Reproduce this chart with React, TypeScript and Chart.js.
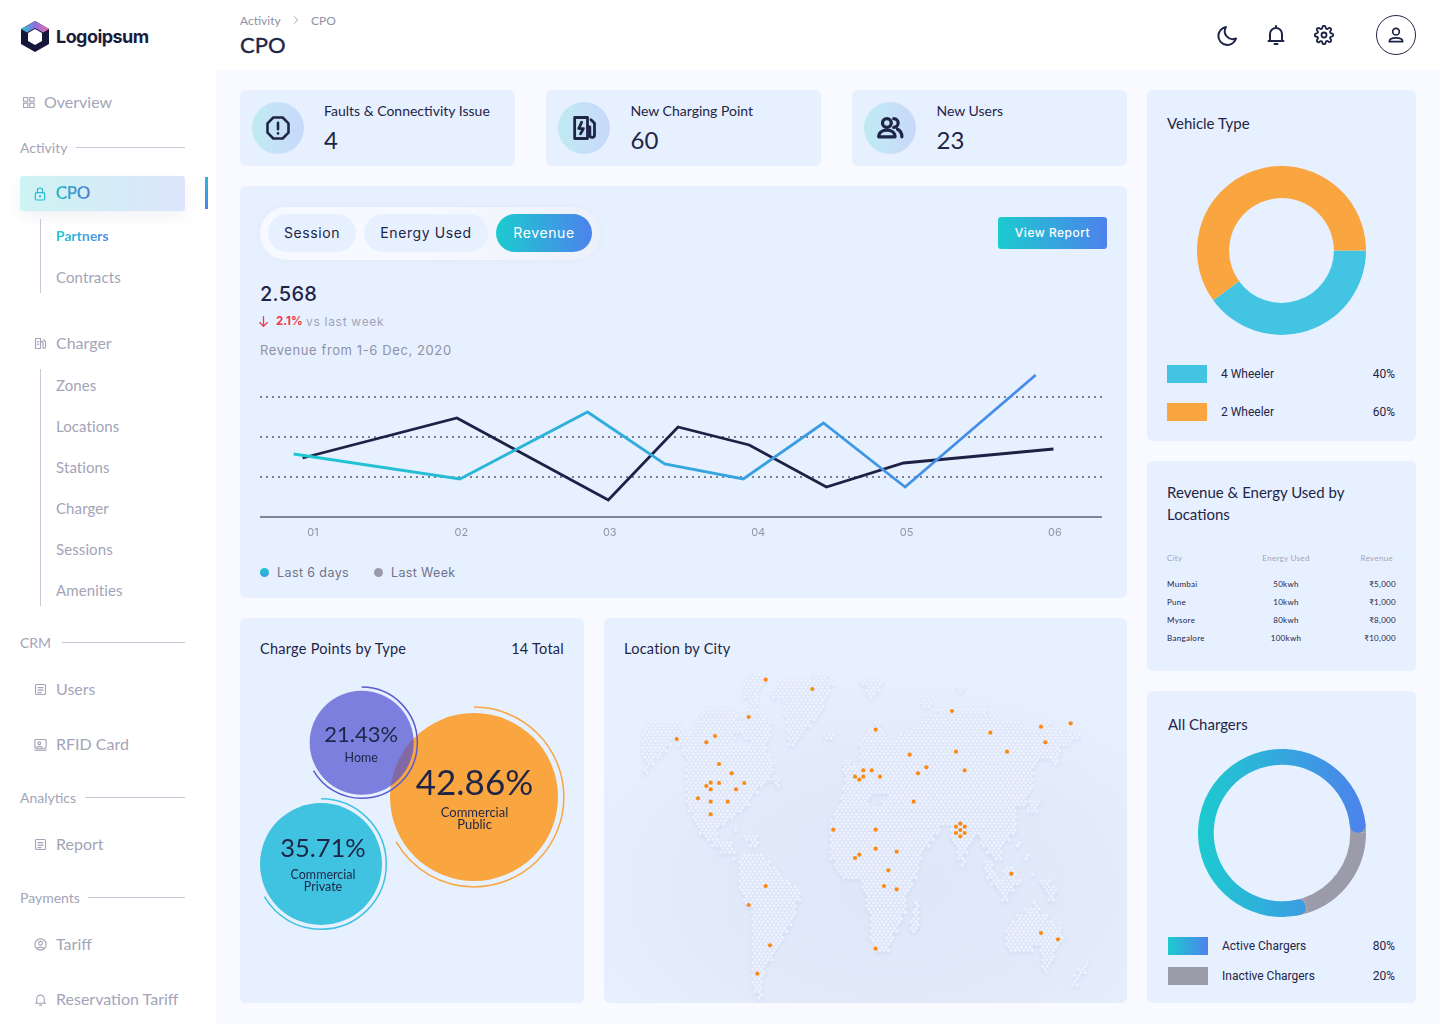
import React, { useEffect, useRef } from "react";
import { Chart, registerables } from "chart.js";

Chart.register(...registerables);

/* ---------- data ---------- */
const dayTicks = ["01", "02", "03", "04", "05", "06"];
const last6DaysX = [0.87, 1.99, 2.85, 3.37, 3.9, 4.44, 4.99, 5.87];
const last6DaysY = [31.5, 19, 52.5, 26.5, 19, 47, 15, 71];
const lastWeekX = [0.93, 1.97, 2.99, 3.46, 3.94, 4.46, 4.98, 5.99];
const lastWeekY = [29.5, 49.5, 8.5, 45, 36, 15, 27, 34];

const vehicleLabels = ["4 Wheeler", "2 Wheeler"];
const vehicleValues = [40, 60];
const chargerLabels = ["Active Chargers", "Inactive Chargers"];
const chargerValues = [80, 20];

const chargeTypes = ["Commercial Public", "Commercial Private", "Home"];
const chargePercents = ["42.86%", "35.71%", "21.43%"];
const chargeX = [234, 81, 121.7];
const chargeY = [179, 246, 124.7];
const chargeR = [84, 61, 52];

const cityX = [485, 625, 434, 218, 307, 333, 345, 383, 307, 320, 320, 345, 396, 421, 282, 320, 371, 320, 815, 1044, 1159, 1311, 1400, 1324, 1209, 1056, 917, 967, 942, 1082, 778, 803, 753, 766, 778, 828, 929, 688, 815, 815, 878, 766, 753, 853, 840, 878, 485, 434, 498, 460, 815, 1222, 1311, 1362, 1056, 1069, 1082, 1056, 1069, 1082, 1069];
const cityY = [59, 87, 171, 237, 247, 228, 312, 340, 378, 368, 388, 369, 388, 369, 415, 425, 425, 463, 209, 153, 218, 200, 190, 247, 275, 275, 284, 322, 340, 331, 331, 331, 350, 359, 350, 350, 425, 509, 509, 566, 575, 584, 594, 631, 678, 688, 678, 735, 856, 941, 866, 641, 819, 838, 500, 491, 500, 519, 510, 519, 529];

const landRows: Record<number, number[]> = {
  50: [430, 490, 630, 670],
  70: [420, 480, 520, 690, 770, 840],
  90: [415, 470, 510, 680, 785, 830, 1060, 1080],
  110: [420, 460, 500, 670, 795, 810],
  130: [440, 460, 540, 660, 950, 985],
  150: [295, 390, 430, 470, 540, 650, 1000, 1150],
  170: [290, 400, 420, 490, 545, 640, 960, 1180],
  190: [130, 230, 280, 500, 545, 620, 810, 830, 930, 1270, 1300, 1340],
  210: [120, 240, 260, 500, 545, 600, 790, 840, 920, 1380],
  230: [115, 390, 420, 500, 550, 590, 660, 690, 780, 850, 880, 1430],
  250: [115, 200, 220, 390, 440, 490, 550, 575, 770, 1400],
  270: [115, 190, 235, 490, 770, 1370],
  290: [115, 170, 240, 500, 770, 1365],
  310: [125, 150, 245, 510, 715, 740, 765, 1300, 1345, 1365],
  330: [120, 130, 245, 510, 715, 1290],
  350: [245, 500, 510, 525, 720, 1290],
  370: [245, 480, 515, 525, 720, 1290],
  390: [245, 460, 715, 1280],
  410: [245, 445, 710, 800, 850, 1270],
  430: [245, 435, 710, 790, 830, 1270, 1275, 1310],
  450: [255, 420, 700, 1240, 1270, 1300],
  470: [265, 395, 690, 1240],
  490: [270, 365, 680, 1240],
  510: [285, 340, 395, 400, 680, 1010, 1040, 1240],
  530: [305, 345, 420, 460, 680, 990, 1040, 1110, 1130, 1220],
  550: [320, 385, 440, 460, 680, 980, 1050, 1100, 1130, 1200, 1240, 1250],
  570: [350, 390, 680, 960, 1060, 1090, 1150, 1190],
  590: [385, 395, 410, 480, 680, 950, 1060, 1080, 1165, 1190, 1265, 1275],
  610: [405, 500, 690, 945, 1070, 1085, 1145, 1165],
  630: [405, 520, 700, 945, 1145, 1170, 1200, 1230],
  650: [405, 535, 710, 940, 1150, 1180, 1200, 1240, 1280, 1290],
  670: [405, 555, 775, 925, 1160, 1250, 1305, 1340],
  690: [405, 585, 775, 920, 1180, 1230, 1320, 1355],
  710: [415, 590, 785, 910, 1195, 1215, 1330, 1350],
  730: [425, 580, 785, 910, 935, 945, 1290, 1300],
  750: [445, 575, 790, 905, 925, 945, 1260, 1310],
  770: [445, 570, 800, 895, 925, 945, 1240, 1330],
  790: [445, 565, 800, 890, 920, 945, 1220, 1350],
  810: [445, 550, 800, 880, 920, 940, 1205, 1370],
  830: [445, 540, 800, 870, 1205, 1375],
  850: [445, 530, 805, 860, 1205, 1370],
  870: [445, 520, 810, 855, 1210, 1290, 1305, 1360],
  890: [445, 505, 1315, 1350],
  910: [445, 490, 1315, 1340, 1440, 1455],
  930: [445, 480, 1320, 1330, 1420, 1445],
  950: [445, 475, 1410, 1430],
  970: [445, 475, 1405, 1420],
  990: [450, 475],
  1010: [460, 475],
};

const locationRows = [
  ["Mumbai", "50kwh", "₹5,000"],
  ["Pune", "10kwh", "₹1,000"],
  ["Mysore", "80kwh", "₹8,000"],
  ["Bangalore", "100kwh", "₹10,000"],
];

/* ---------- shared styling ---------- */
const INK = "#1f2547";
const GREY = "#a3a4b8";
const CARD = "#e7f0ff";
const TEAL = "#1ccbcf";
const BLUE = "#4d82ec";
const GRAD = `linear-gradient(90deg, ${TEAL}, ${BLUE})`;
const LATO = "Lato, sans-serif";
const INTER = "Inter, sans-serif";
const ROBOTO = "Roboto, sans-serif";

function landPoints() {
  const pts: { x: number; y: number }[] = [];
  for (let r = -50; r <= 55; r++) {
    const y = 510 + 9.5 * r;
    const key = Math.round((y - 10) / 20) * 20 + 10;
    const spans = landRows[key];
    if (!spans) continue;
    const off = r % 2 === 0 ? 0 : 6.35;
    for (let s = 0; s < spans.length; s += 2) {
      const k0 = Math.ceil((spans[s] - 1069 - off) / 12.7);
      const k1 = Math.floor((spans[s + 1] - 1069 - off) / 12.7);
      for (let k = k0; k <= k1; k++) pts.push({ x: 1069 + off + k * 12.7, y });
    }
  }
  return pts;
}

const horizontalGradient = (chart: any) => {
  const a = chart.chartArea;
  if (!a) return TEAL;
  const g = chart.ctx.createLinearGradient(a.left, 0, a.right, 0);
  g.addColorStop(0, TEAL);
  g.addColorStop(1, BLUE);
  return g;
};

const baseOptions = {
  responsive: false,
  animation: false,
  events: [],
  layout: { padding: 0, autoPadding: false },
};
const noPlugins = { legend: { display: false }, tooltip: { enabled: false } };

/* ---------- chart configs ---------- */
function lineConfig() {
  return {
    type: "line",
    data: {
      datasets: [
        {
          label: "Last 6 days",
          data: last6DaysX.map((x, i) => ({ x, y: last6DaysY[i] })),
          borderColor: (c: any) => horizontalGradient(c.chart),
          borderWidth: 2.8,
          pointRadius: 0,
          tension: 0,
          clip: false,
          borderJoinStyle: "miter",
        },
        {
          label: "Last Week",
          data: lastWeekX.map((x, i) => ({ x, y: lastWeekY[i] })),
          borderColor: "#1c2145",
          borderWidth: 2.8,
          pointRadius: 0,
          tension: 0,
          clip: false,
          borderJoinStyle: "miter",
        },
      ],
    },
    options: {
      ...baseOptions,
      plugins: noPlugins,
      scales: {
        x: {
          type: "linear",
          min: 0.643,
          max: 6.317,
          grid: { display: false, drawTicks: false },
          border: { display: true, color: "#7e8499", width: 2 },
          afterFit: (s: any) => {
            s.height = 22;
          },
          ticks: {
            stepSize: 1,
            includeBounds: false,
            padding: 9.2,
            maxRotation: 0,
            autoSkip: false,
            color: "#9294a8",
            font: { family: INTER, size: 11 },
            callback: (v: number) => dayTicks[v - 1] ?? "",
          },
        },
        y: {
          min: 0,
          max: 80,
          grid: {
            drawTicks: false,
            lineWidth: 2,
            color: (c: any) =>
              c.tick && [20, 40, 60].includes(c.tick.value) ? "#7c7f90" : "rgba(0,0,0,0)",
          },
          border: { display: false, dash: [2, 4] },
          ticks: { display: false, stepSize: 20 },
        },
      },
    },
  };
}

function vehicleConfig() {
  return {
    type: "doughnut",
    data: {
      labels: vehicleLabels,
      datasets: [{ data: vehicleValues, backgroundColor: ["#44c4e3", "#f9a540"], borderWidth: 0 }],
    },
    options: { ...baseOptions, plugins: noPlugins, rotation: 90, cutout: "62%" },
  };
}

const chargerUnderlay = {
  id: "chargerUnderlay",
  beforeDatasetsDraw(chart: any) {
    const el = chart.getDatasetMeta(0).data[0];
    const { x, y, innerRadius, outerRadius, startAngle, endAngle } = el;
    const d = 0.16;
    const ctx = chart.ctx;
    ctx.save();
    ctx.fillStyle = "#9c9baa";
    for (const [a, b] of [
      [startAngle, startAngle + d],
      [endAngle - d, endAngle],
    ]) {
      ctx.beginPath();
      ctx.arc(x, y, outerRadius, a, b);
      ctx.arc(x, y, innerRadius, b, a, true);
      ctx.closePath();
      ctx.fill();
    }
    ctx.restore();
  },
};

function chargerConfig() {
  return {
    type: "doughnut",
    data: {
      labels: chargerLabels,
      datasets: [
        {
          data: chargerValues,
          backgroundColor: (c: any) => (c.dataIndex === 0 ? horizontalGradient(c.chart) : "#9c9baa"),
          borderRadius: (c: any) => (c.dataIndex === 0 ? 8 : 0),
          borderWidth: 0,
        },
      ],
    },
    options: { ...baseOptions, plugins: noPlugins, rotation: 161.9, cutout: "81.3%" },
    plugins: [chargerUnderlay],
  };
}

const bubbleFill = ["#f9a540", "#40c3e0", "rgba(80,81,207,0.71)"];
const bubbleRing = ["#f9a540", "#3fc3e0", "#5a5bd0"];
const bubbleText = [
  { size: 35, dx: 0.5, pctDy: -13.5, lines: ["Commercial", "Public"], lineDy: 16, lineSize: 13 },
  { size: 25.5, dx: 2, pctDy: -15, lines: ["Commercial", "Private"], lineDy: 11, lineSize: 12.5 },
  { size: 22, dx: -0.5, pctDy: -7.5, lines: ["Home"], lineDy: 15, lineSize: 12.5 },
];

const bubbleDecor = {
  id: "bubbleDecor",
  afterDatasetsDraw(chart: any) {
    const ctx = chart.ctx;
    chart.getDatasetMeta(0).data.forEach((el: any, i: number) => {
      const r = el.options.radius;
      ctx.save();
      ctx.strokeStyle = bubbleRing[i];
      ctx.lineWidth = 1.5;
      ctx.beginPath();
      ctx.arc(el.x, el.y, r * 1.07, -Math.PI / 2, (150 / 180) * Math.PI);
      ctx.stroke();
      const t = bubbleText[i];
      ctx.fillStyle = INK;
      ctx.textAlign = "center";
      ctx.textBaseline = "middle";
      ctx.font = `400 ${t.size}px ${LATO}`;
      ctx.fillText(chargePercents[i], el.x + t.dx, el.y + t.pctDy);
      ctx.font = `400 ${t.lineSize}px ${LATO}`;
      t.lines.forEach((line, j) => ctx.fillText(line, el.x + t.dx, el.y + t.lineDy + j * 12));
      ctx.restore();
    });
  },
};

function bubbleConfig() {
  return {
    type: "bubble",
    data: {
      labels: chargeTypes,
      datasets: [
        {
          data: chargeX.map((x, i) => ({ x, y: chargeY[i], r: chargeR[i] })),
          backgroundColor: bubbleFill,
          borderWidth: 0,
          clip: false,
        },
      ],
    },
    options: {
      ...baseOptions,
      plugins: noPlugins,
      scales: {
        x: { display: false, min: 0, max: 344 },
        y: { display: false, min: 0, max: 385, reverse: true },
      },
    },
    plugins: [bubbleDecor],
  };
}

const landShadow = {
  id: "landShadow",
  beforeDatasetDraw(chart: any, args: any) {
    if (args.index !== 1) return;
    const c = chart.ctx;
    c.save();
    c.shadowColor = "rgba(135,155,215,0.14)";
    c.shadowBlur = 4;
    c.shadowOffsetY = 2;
  },
  afterDatasetDraw(chart: any, args: any) {
    if (args.index === 1) chart.ctx.restore();
  },
};

function mapConfig() {
  return {
    type: "scatter",
    data: {
      datasets: [
        {
          label: "Cities",
          data: cityX.map((x, i) => ({ x, y: cityY[i] })),
          pointRadius: 2.1,
          pointBackgroundColor: "#fb8a14",
          pointBorderWidth: 0,
          clip: false,
        },
        {
          label: "Land",
          data: landPoints(),
          pointRadius: 1.75,
          pointBackgroundColor: "#f1f5ff",
          pointBorderColor: "#dfe6f8",
          pointBorderWidth: 0.5,
          clip: false,
        },
      ],
    },
    options: {
      ...baseOptions,
      plugins: noPlugins,
      scales: {
        x: { display: false, min: 0, max: 1569 },
        y: { display: false, min: 0, max: 1029, reverse: true },
      },
    },
    plugins: [landShadow],
  };
}

/* ---------- small components ---------- */
function ChartCanvas({ l, t, w, h, make }: any) {
  const ref = useRef<HTMLCanvasElement>(null);
  useEffect(() => {
    const chart = new Chart(ref.current as any, make());
    return () => chart.destroy();
  }, []);
  return (
    <canvas
      ref={ref}
      width={w}
      height={h}
      style={{ position: "absolute", left: l, top: t, width: w, height: h, display: "block" }}
    />
  );
}

function T({ x, y, s = 14, c = INK, f = LATO, w = 400, a = "left", ls = 0, grad = false, st = 0, children }: any) {
  const tx = a === "left" ? "0" : a === "right" ? "-100%" : "-50%";
  const extra: any = grad
    ? { backgroundImage: GRAD, WebkitBackgroundClip: "text", backgroundClip: "text", color: "transparent" }
    : { color: c };
  if (st) extra.WebkitTextStroke = `${st}px ${c}`;
  return (
    <div
      style={{
        position: "absolute",
        left: x,
        top: y,
        transform: `translate(${tx}, -50%)`,
        fontFamily: f,
        fontSize: s,
        fontWeight: w,
        letterSpacing: ls,
        lineHeight: 1.2,
        whiteSpace: "nowrap",
        ...extra,
      }}
    >
      {children}
    </div>
  );
}

function Box({ l, t, r, b, bg = CARD, rad = 6, style }: any) {
  return (
    <div style={{ position: "absolute", left: l, top: t, width: r - l, height: b - t, background: bg, borderRadius: rad, ...style }} />
  );
}

function Icon({ x, y, size = 24, color = INK, sw = 2, children }: any) {
  return (
    <svg
      width={size}
      height={size}
      viewBox="0 0 24 24"
      fill="none"
      stroke={color}
      strokeWidth={sw}
      strokeLinecap="round"
      strokeLinejoin="round"
      style={{ position: "absolute", left: x - size / 2, top: y - size / 2 }}
    >
      {children}
    </svg>
  );
}

const docIcon = (
  <>
    <rect x="4" y="4" width="16" height="16" rx="1.5" />
    <path d="M8 9h8M8 13h8M8 17h5" />
  </>
);

function SideIcon({ x, y, children }: any) {
  return (
    <Icon x={x} y={y} size={15} color={GREY} sw={1.8}>
      {children}
    </Icon>
  );
}

function StatCard({ l, tx, label, value, icon }: any) {
  return (
    <>
      <Box l={l} t={90} r={l + 275} b={166} />
      <div
        style={{
          position: "absolute",
          left: l + 12,
          top: 102,
          width: 52,
          height: 52,
          borderRadius: 26,
          background: "linear-gradient(90deg, #bfebf2, #c9d8fb)",
        }}
      />
      {icon}
      <T x={tx} y={111} s={14}>{label}</T>
      <T x={tx} y={140} s={24}>{value}</T>
    </>
  );
}

function Pill({ l, r, text, active }: any) {
  return (
    <>
      <Box l={l} t={214} r={r} b={252} rad={19} bg={active ? GRAD : CARD} />
      <T x={(l + r) / 2} y={233} s={14} f={INTER} c={active ? "#fff" : INK} a="center" ls={0.6}>{text}</T>
    </>
  );
}

function LegendRow({ y, bg, name, pct }: any) {
  return (
    <>
      <div style={{ position: "absolute", left: y.sx, top: y.top, width: 40, height: 18, background: bg }} />
      <T x={y.sx + 54} y={y.top + 9} s={12} f={ROBOTO}>{name}</T>
      <T x={1395} y={y.top + 9} s={12} f={ROBOTO} a="right">{pct}</T>
    </>
  );
}

function SubLine({ x, t, b }: any) {
  return <div style={{ position: "absolute", left: x, top: t, width: 1, height: b - t, background: "#c8c9d6" }} />;
}
function Rule({ l, y }: any) {
  return <div style={{ position: "absolute", left: l, top: y, width: 185 - l, height: 1, background: "#c8c9d6" }} />;
}

export default function App() {
  const subA = [["Zones", 384.5], ["Locations", 425.5], ["Stations", 466.5], ["Charger", 507.5], ["Sessions", 548.5], ["Amenities", 589.5]];
  return (
    <div style={{ position: "absolute", left: 0, top: 0, width: 1440, height: 1024, overflow: "hidden", background: "#fff" }}>
      <Box l={216} t={70} r={1440} b={1024} bg="#f8faff" rad={0} />

      {/* logo */}
      <svg width="32" height="32" viewBox="0 0 32 32" style={{ position: "absolute", left: 19, top: 20 }}>
        <defs>
          <linearGradient id="lg" x1="0" x2="1" y1="0" y2="0">
            <stop offset="0" stopColor="#25c5d3" />
            <stop offset="0.5" stopColor="#8f6fe0" />
            <stop offset="1" stopColor="#e86fae" />
          </linearGradient>
        </defs>
        <path d="M16 1 L30 9 V24 L16 32 L2 24 V9 Z" fill="#15173a" />
        <path d="M16 1 L30 9 L24 12.5 L16 8 L8 12.5 L2 9 Z" fill="url(#lg)" />
        <path d="M16 9 L23 13 V21 L16 25 L9 21 V13 Z" fill="#fff" />
      </svg>
      <T x={56} y={36.5} s={18} f={INTER} w={700} c="#1a1d3d" ls={-0.55}>Logoipsum</T>

      {/* sidebar */}
      <SideIcon x={28} y={102}>
        <rect x="4" y="4" width="7" height="6" /><rect x="14" y="4" width="7" height="6" /><rect x="4" y="13" width="7" height="7" /><rect x="14" y="13" width="7" height="7" />
      </SideIcon>
      <T x={44} y={102} s={16} c={GREY}>Overview</T>
      <T x={20} y={148} s={14} c={GREY}>Activity</T>
      <Rule l={76} y={147} />
      <Box l={20} t={176} r={185} b={211} rad={3} bg="linear-gradient(90deg, #cdf3f3, #dce5fb)" style={{ boxShadow: "0 6px 14px rgba(120,130,170,0.10)" }} />
      <div style={{ position: "absolute", left: 205, top: 177, width: 3, height: 32, background: "linear-gradient(180deg, #28b9d6, #4d82ec)" }} />
      <Icon x={40} y={194} size={16} color="#2cbcd8" sw={1.8}>
        <rect x="5" y="10" width="14" height="11" rx="2" />
        <path d="M8 10V7a4 4 0 0 1 8 0v3" />
        <circle cx="12" cy="15.5" r="0.8" />
      </Icon>
      <T x={56} y={194} s={16.5} w={400} st={0.15} grad>CPO</T>
      <SubLine x={40} t={219} b={293} />
      <T x={56} y={236} s={14} w={700} grad>Partners</T>
      <T x={56} y={276.5} s={15} c={GREY} ls={0.1}>Contracts</T>

      <SideIcon x={40} y={343}>
        <rect x="4" y="4" width="8" height="16" /><path d="M12 9h4v9a2 2 0 0 0 4 0V9l-3-3" /><path d="M7 9h2M7 13h2" />
      </SideIcon>
      <T x={56} y={343} s={16} c={GREY}>Charger</T>
      <SubLine x={40} t={369} b={606} />
      {subA.map(([n, y]: any) => (
        <T key={n} x={56} y={y} s={15} c={GREY} ls={0.1}>{n}</T>
      ))}

      <T x={20} y={643} s={14} c={GREY}>CRM</T>
      <Rule l={62} y={642} />
      <SideIcon x={40} y={689}>{docIcon}</SideIcon>
      <T x={56} y={689} s={16} c={GREY}>Users</T>
      <SideIcon x={40} y={744}>
        <rect x="3" y="4" width="18" height="14" rx="1.5" /><circle cx="10" cy="10" r="2.2" /><path d="M6 17c0-3 8-3 8 0M3 21h18" />
      </SideIcon>
      <T x={56} y={744} s={16} c={GREY}>RFID Card</T>
      <T x={20} y={798} s={14} c={GREY}>Analytics</T>
      <Rule l={85} y={797} />
      <SideIcon x={40} y={844}>{docIcon}</SideIcon>
      <T x={56} y={844} s={16} c={GREY}>Report</T>
      <T x={20} y={898} s={14} c={GREY}>Payments</T>
      <Rule l={88} y={897} />
      <SideIcon x={40} y={944}>
        <circle cx="12" cy="12" r="9" /><circle cx="12" cy="10" r="3" /><path d="M6.5 18.5c1.5-3 9.5-3 11 0" />
      </SideIcon>
      <T x={56} y={944} s={16} c={GREY}>Tariff</T>
      <SideIcon x={40} y={999}>
        <path d="M6 17V11a6 6 0 0 1 12 0v6l2 1H4z" /><path d="M10 21h4" />
      </SideIcon>
      <T x={56} y={999} s={16} c={GREY}>Reservation Tariff</T>

      {/* header */}
      <T x={240} y={21} s={12} c="#8f91a5">Activity</T>
      <Icon x={296} y={20} size={10} color="#8f91a5" sw={2}><path d="M8 4l8 8-8 8" /></Icon>
      <T x={311} y={21} s={12} c="#8f91a5">CPO</T>
      <T x={240} y={45} s={22} st={0.35}>CPO</T>
      <Icon x={1228} y={35}><path d="M20 15.5A9 9 0 1 1 10 4a8 8 0 0 0 10 11.5z" /></Icon>
      <Icon x={1276} y={35}><path d="M6 17v-6a6 6 0 0 1 12 0v6l1.5 1h-15z" /><path d="M10.5 21h3M12 3v2" /></Icon>
      <Icon x={1324} y={35} size={20} sw={2.2}>
        <circle cx="12" cy="12" r="3" />
        <path d="M19.4 15a1.7 1.7 0 0 0 .3 1.8l.1.1a2 2 0 1 1-2.8 2.8l-.1-.1a1.7 1.7 0 0 0-2.9 1.2V21a2 2 0 1 1-4 0v-.1a1.7 1.7 0 0 0-2.9-1.1l-.1.1a2 2 0 1 1-2.8-2.8l.1-.1a1.7 1.7 0 0 0-1.2-2.9H3a2 2 0 1 1 0-4h.1a1.7 1.7 0 0 0 1.1-2.9l-.1-.1a2 2 0 1 1 2.8-2.8l.1.1a1.7 1.7 0 0 0 1.8.3H9a1.7 1.7 0 0 0 1-1.5V3a2 2 0 1 1 4 0v.1a1.7 1.7 0 0 0 2.9 1.2l.1-.1a2 2 0 1 1 2.8 2.8l-.1.1a1.7 1.7 0 0 0-.3 1.8V9a1.7 1.7 0 0 0 1.5 1H21a2 2 0 1 1 0 4h-.1a1.7 1.7 0 0 0-1.5 1z" />
      </Icon>
      <div style={{ position: "absolute", left: 1376, top: 15, width: 38, height: 38, borderRadius: 20, border: `1px solid ${INK}` }} />
      <Icon x={1396} y={35} size={20}><circle cx="12" cy="8" r="4" /><path d="M4 20c0-6 16-6 16 0z" /></Icon>

      {/* stat cards */}
      <StatCard
        l={240}
        tx={324}
        label="Faults & Connectivity Issue"
        value="4"
        icon={
          <Icon x={278} y={128} size={28} sw={2.2}>
            <path d="M8 3h8l5 5v8l-5 5H8l-5-5V8z" /><path d="M12 7.5v5.5M12 16.5v.2" />
          </Icon>
        }
      />
      <StatCard
        l={546}
        tx={630.5}
        label="New Charging Point"
        value="60"
        icon={
          <Icon x={584} y={128} size={28} sw={2.4}>
            <rect x="4" y="3" width="11" height="18" /><path d="M10 7l-2.5 5.5h4L9 17" /><path d="M15 11h2v7a2 2 0 0 0 4 0V8l-3-3" />
          </Icon>
        }
      />
      <StatCard
        l={852}
        tx={936.5}
        label="New Users"
        value="23"
        icon={
          <Icon x={890} y={128} size={30} sw={2.6}>
            <circle cx="9.5" cy="8" r="3.5" /><path d="M3 19c0-7 13-7 13 0z" /><path d="M15 4.5a3.5 3.5 0 0 1 0 7M18 13c2 1 3.5 3 3.5 6" />
          </Icon>
        }
      />

      {/* main chart card */}
      <Box l={240} t={186} r={1127} b={598} />
      <Box l={260} t={207} r={600} b={260} rad={27} bg="linear-gradient(90deg, #f6f9ff, #f6f9ff 50%, #ecf0fa)" style={{ boxShadow: "0 0 6px rgba(215,220,235,0.35)" }} />
      <Pill l={268} r={356} text="Session" />
      <Pill l={364} r={488} text="Energy Used" />
      <Pill l={496} r={592} text="Revenue" active />
      <Box l={998} t={217} r={1107} b={249} rad={3} bg={GRAD} />
      <T x={1052.5} y={233} s={12} f={INTER} w={500} c="#fff" a="center" ls={0.5}>View Report</T>
      <T x={260} y={294} s={20} f={INTER} w={500} ls={0.3}>2.568</T>
      <Icon x={263} y={321} size={13} color="#f0384a" sw={2.4}><path d="M12 3v18M5 14l7 7 7-7" /></Icon>
      <T x={276} y={322} s={11.5} f={INTER} w={700} c="#f0384a">2.1%</T>
      <T x={306} y={322} s={12} f={INTER} c={GREY} ls={0.7}>vs last week</T>
      <T x={260} y={350.5} s={13} f={INTER} c="#8f91a5" ls={0.6}>Revenue from 1-6 Dec, 2020</T>
      <ChartCanvas l={260} t={357} w={842} h={182} make={lineConfig} />
      <div style={{ position: "absolute", left: 260, top: 568, width: 9, height: 9, borderRadius: 5, background: "linear-gradient(180deg,#1fc5d3,#3a9fe2)" }} />
      <T x={277} y={572} s={12.5} f={INTER} c="#6f7288" ls={0.4}>Last 6 days</T>
      <div style={{ position: "absolute", left: 374, top: 568, width: 9, height: 9, borderRadius: 5, background: "#9c9baa" }} />
      <T x={391} y={572} s={12.5} f={INTER} c="#6f7288" ls={0.35}>Last Week</T>

      {/* charge points */}
      <Box l={240} t={618} r={584} b={1003} />
      <T x={260} y={649} s={14.5} ls={0.25}>Charge Points by Type</T>
      <T x={564} y={649} s={14.5} a="right" ls={0.25}>14 Total</T>
      <ChartCanvas l={240} t={618} w={344} h={385} make={bubbleConfig} />

      {/* map */}
      <Box
        l={604}
        t={618}
        r={1127}
        b={1003}
        bg="radial-gradient(ellipse 340px 220px at 290px 270px, #dee7f8 0%, #e2eafa 55%, #e7f0ff 100%)"
      />
      <T x={624} y={649} s={14.5} ls={0.25}>Location by City</T>
      <ChartCanvas l={604} t={660} w={523} h={343} make={mapConfig} />

      {/* vehicle type */}
      <Box l={1147} t={90} r={1416} b={441} />
      <T x={1167} y={122.5} s={15}>Vehicle Type</T>
      <ChartCanvas l={1197} t={166} w={169} h={169} make={vehicleConfig} />
      <LegendRow y={{ sx: 1167, top: 365 }} bg="#44c4e3" name={vehicleLabels[0]} pct={`${vehicleValues[0]}%`} />
      <LegendRow y={{ sx: 1167, top: 403 }} bg="#f9a540" name={vehicleLabels[1]} pct={`${vehicleValues[1]}%`} />

      {/* table */}
      <Box l={1147} t={461} r={1416} b={671} />
      <T x={1167} y={491.5} s={15}>Revenue & Energy Used by</T>
      <T x={1167} y={513.5} s={15}>Locations</T>
      <T x={1167} y={558.5} s={8} c={GREY} ls={0.3}>City</T>
      <T x={1286} y={558.5} s={8} c={GREY} a="center" ls={0.3}>Energy Used</T>
      <T x={1393} y={558.5} s={8} c={GREY} a="right" ls={0.3}>Revenue</T>
      {locationRows.map((row, i) => (
        <React.Fragment key={row[0]}>
          <T x={1167} y={584.5 + i * 18} s={8} ls={0.3}>{row[0]}</T>
          <T x={1286} y={584.5 + i * 18} s={8} a="center" ls={0.3}>{row[1]}</T>
          <T x={1396} y={584.5 + i * 18} s={8} a="right" ls={0.3}>{row[2]}</T>
        </React.Fragment>
      ))}

      {/* all chargers */}
      <Box l={1147} t={691} r={1416} b={1003} />
      <T x={1168} y={723.5} s={15}>All Chargers</T>
      <ChartCanvas l={1198} t={749} w={168} h={168} make={chargerConfig} />
      <LegendRow y={{ sx: 1168, top: 937 }} bg={GRAD} name={chargerLabels[0]} pct={`${chargerValues[0]}%`} />
      <LegendRow y={{ sx: 1168, top: 967 }} bg="#9c9baa" name={chargerLabels[1]} pct={`${chargerValues[1]}%`} />
    </div>
  );
}
